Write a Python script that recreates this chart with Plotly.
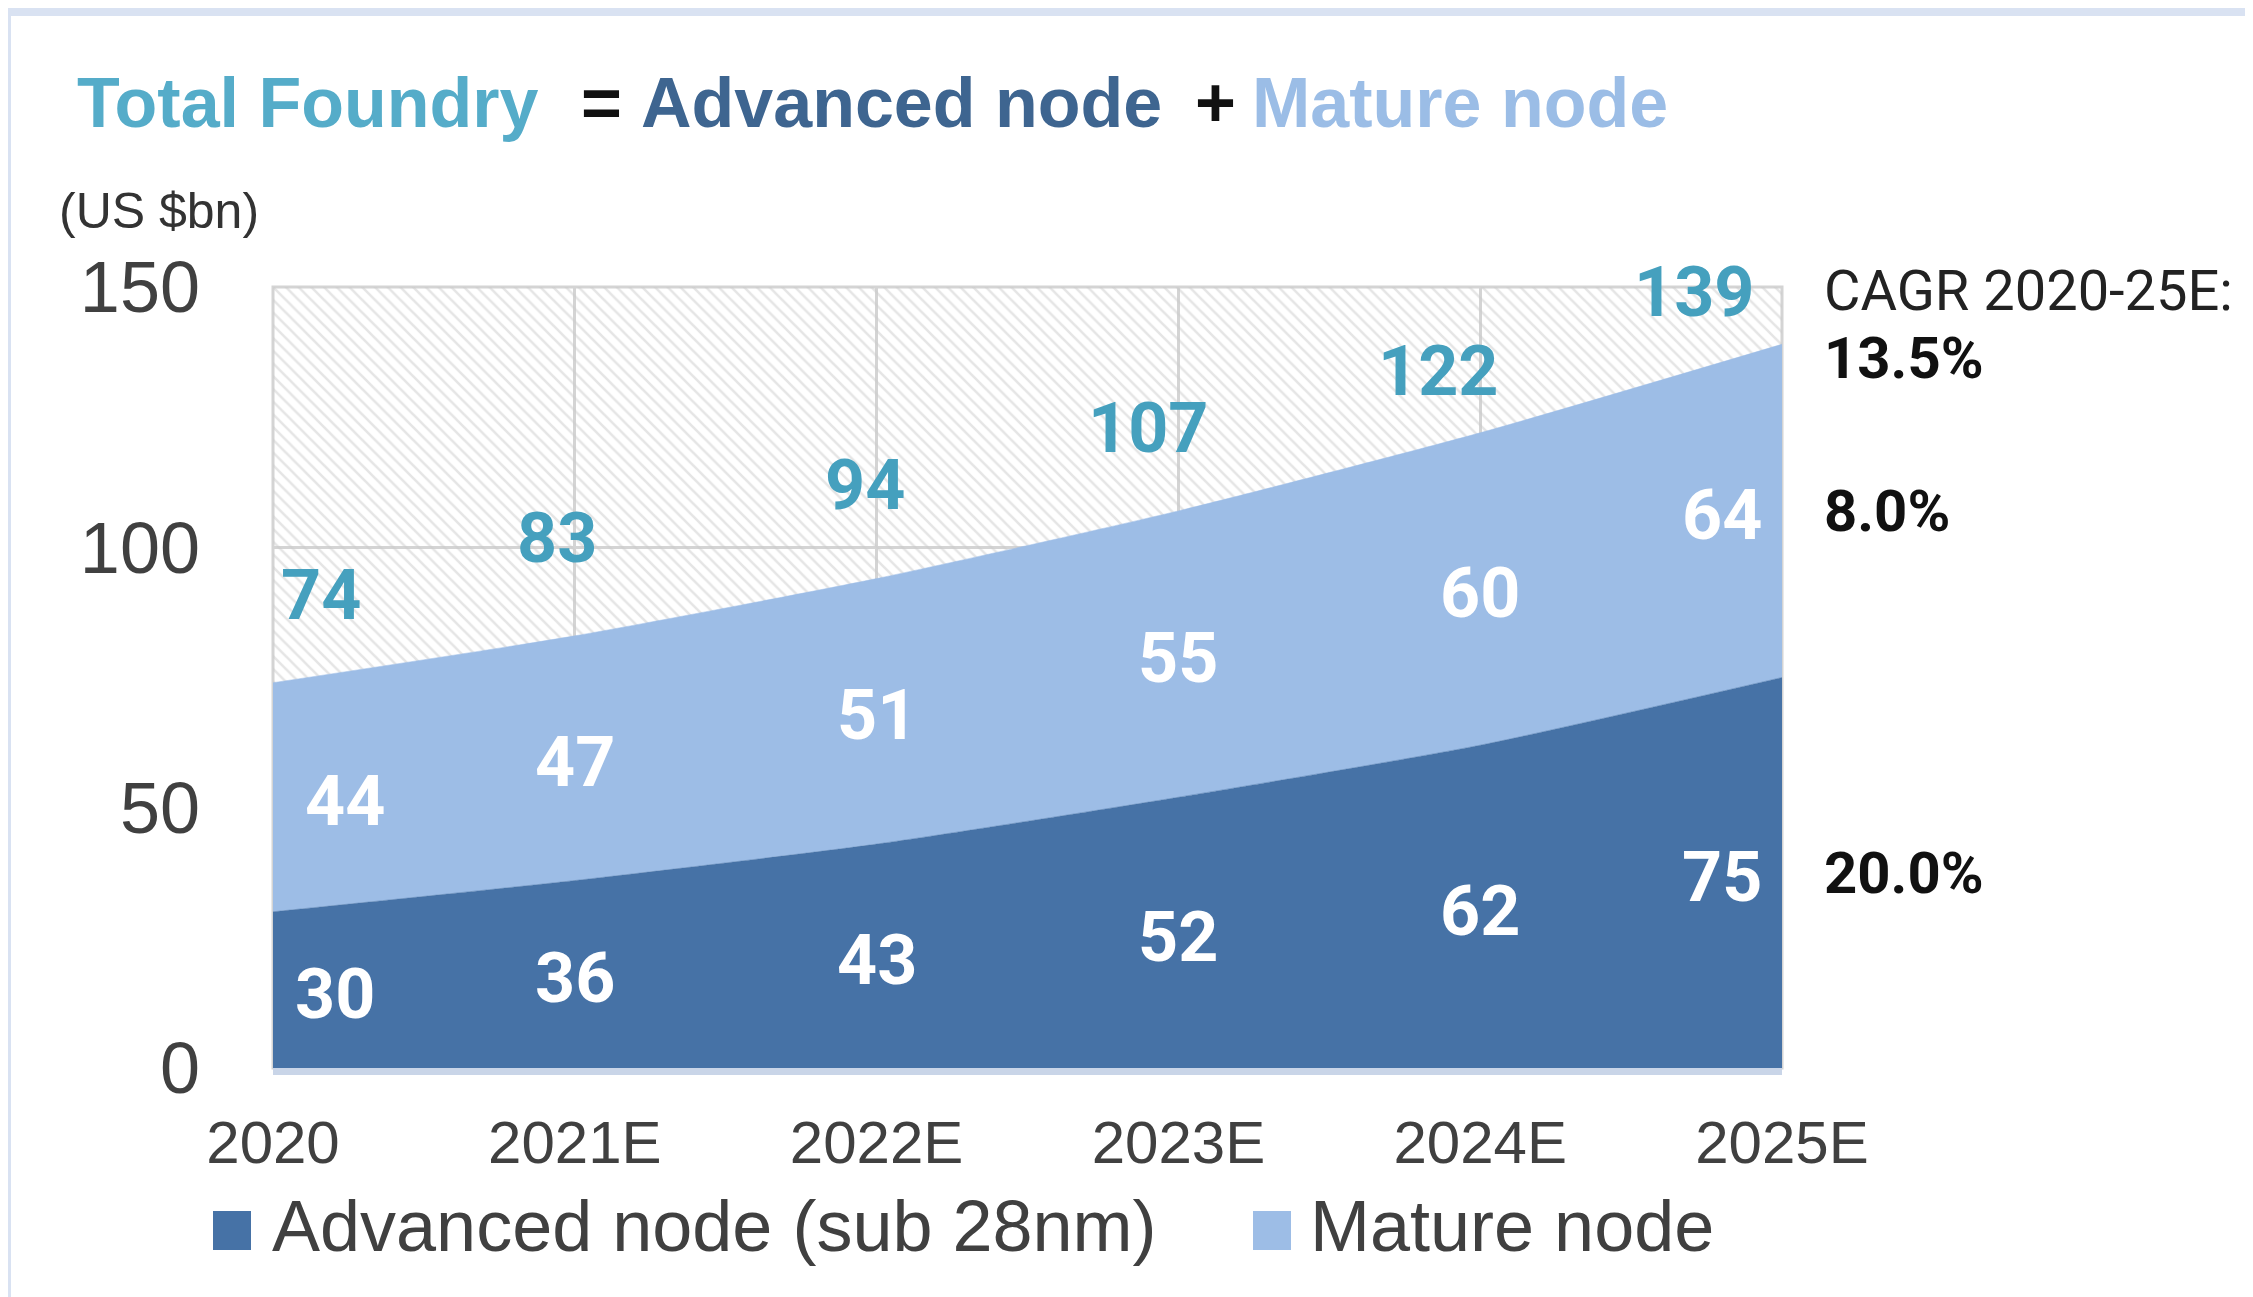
import plotly.graph_objects as go

# ---------------- data ----------------
categories = ["2020", "2021E", "2022E", "2023E", "2024E", "2025E"]
advanced = [30, 36, 43, 52, 62, 75]
mature = [44, 47, 51, 55, 60, 64]
total = [74, 83, 94, 107, 122, 139]
cagr_labels = ["13.5%", "8.0%", "20.0%"]   # total, mature, advanced
y_ticks = [0, 50, 100, 150]

# ---------------- style ----------------
SW, SH = 2253, 1297          # screen size
OFF = 8                      # default page body margin
W, H = SW - OFF, SH - OFF    # figure size
L, T = 273 - OFF, 287 - OFF  # plot area (figure coords)
R, B = SW - 1782, SH - 1068
PW, PH = W - L - R, H - T - B
DARK = "#4672a6"
LIGHT = "#9dbde6"
TEAL = "#45a0be"
GRID = "#d4d4d4"
TXT = "#404040"
SANS = "Liberation Sans, Arial, sans-serif"
ROBO = "Roboto, Arial, sans-serif"


def px2x(px):  # screen px -> paper x
    return (px - OFF - L) / PW


def py2y(py):  # screen py -> paper y
    return (H - B - (py - OFF)) / PH


xs = list(range(len(categories)))
ymax = y_ticks[-1]

fig = go.Figure()

# hatched background up to the top of the axis
fig.add_trace(go.Scatter(
    x=xs, y=[ymax] * len(xs), mode="lines", fill="tozeroy",
    line=dict(width=0, color="rgba(0,0,0,0)"),
    fillcolor="rgba(0,0,0,0)",
    fillpattern=dict(shape="\\", fgcolor="#cbcbcb", bgcolor="rgba(255,255,255,0)",
                     size=9, solidity=0.28),
    hoverinfo="skip", showlegend=False))

fig.add_trace(go.Scatter(
    x=xs, y=advanced, mode="lines", stackgroup="one", name="Advanced node (sub 28nm)",
    line=dict(width=0.5, color=DARK, shape="spline", smoothing=0.6),
    fillcolor=DARK, showlegend=False))
fig.add_trace(go.Scatter(
    x=xs, y=mature, mode="lines", stackgroup="one", name="Mature node",
    line=dict(width=0.5, color=LIGHT, shape="spline", smoothing=0.6),
    fillcolor=LIGHT, showlegend=False))

ann = []
n = len(categories)
edge_shift = [62, 0, 0, 0, 0, -60]
mature_shift = [72, 0, 0, 0, 0, -60]
total_xshift = [48, -18, -12, -30, -42, -88]
total_lift = [88, 98, 94, 83, 62, 52]
for i in range(n):
    ann.append(dict(x=i, y=advanced[i] / 2, xref="x", yref="y", text=str(advanced[i]),
                    showarrow=False, xshift=edge_shift[i], yshift=-4,
                    font=dict(family=ROBO, size=70, color="white", weight="bold")))
    ann.append(dict(x=i, y=advanced[i] + mature[i] / 2, xref="x", yref="y", text=str(mature[i]),
                    showarrow=False, xshift=mature_shift[i], yshift=-4,
                    font=dict(family=ROBO, size=70, color="white", weight="bold")))
    ann.append(dict(x=i, y=total[i], xref="x", yref="y", text=str(total[i]),
                    showarrow=False, xshift=total_xshift[i], yshift=total_lift[i],
                    font=dict(family=ROBO, size=70, color=TEAL, weight="bold")))

# CAGR block
ann.append(dict(x=px2x(1822), y=ymax, xref="paper", yref="y", text="CAGR 2020-25E:",
                xanchor="left", yanchor="middle", showarrow=False, yshift=-4,
                font=dict(family=ROBO, size=56, color="#222222")))
ann.append(dict(x=px2x(1822), y=total[-1], xref="paper", yref="y", text=cagr_labels[0],
                xanchor="left", yanchor="middle", showarrow=False, yshift=-14,
                font=dict(family=ROBO, size=58, color="#111111", weight="bold")))
ann.append(dict(x=px2x(1822), y=advanced[-1] + mature[-1] / 2, xref="paper", yref="y",
                text=cagr_labels[1], xanchor="left", yanchor="middle", showarrow=False,
                font=dict(family=ROBO, size=58, color="#111111", weight="bold")))
ann.append(dict(x=px2x(1822), y=advanced[-1] / 2, xref="paper", yref="y",
                text=cagr_labels[2], xanchor="left", yanchor="middle", showarrow=False,
                font=dict(family=ROBO, size=58, color="#111111", weight="bold")))

# headline
for text, left, col in [("Total Foundry", 75, "#55acc9"), ("=", 579, "#111111"),
                        ("Advanced node", 639, "#3e6590"), ("+", 1193, "#111111"),
                        ("Mature node", 1250, "#9bbde6")]:
    ann.append(dict(x=px2x(left), y=py2y(103), xref="paper", yref="paper", text=text,
                    xanchor="left", yanchor="middle", showarrow=False,
                    font=dict(family=SANS, size=70, color=col, weight="bold")))

ann.append(dict(x=px2x(159), y=py2y(211), xref="paper", yref="paper", text="(US $bn)",
                xanchor="center", yanchor="middle", showarrow=False,
                font=dict(family=SANS, size=50, color="#333333")))

# white card + plot frame
shapes = [dict(type="rect", xref="paper", yref="paper", layer="below",
               x0=px2x(11), x1=px2x(SW + 60), y0=py2y(16), y1=py2y(SH + 60),
               fillcolor="white", line=dict(width=0)),
          dict(type="rect", xref="paper", yref="paper", layer="below",
               x0=0, x1=1, y0=0, y1=1, fillcolor="rgba(0,0,0,0)",
               line=dict(width=3, color=GRID))]

# custom legend
for name, col, sq_left, txt_left in [("Advanced node (sub 28nm)", DARK, 213, 270),
                                     ("Mature node", LIGHT, 1253, 1308)]:
    shapes.append(dict(type="rect", xref="paper", yref="paper",
                       x0=px2x(sq_left), x1=px2x(sq_left + 38), y0=py2y(1250), y1=py2y(1211),
                       fillcolor=col, line=dict(width=0)))
    ann.append(dict(x=px2x(txt_left), y=py2y(1226), xref="paper", yref="paper", text=name,
                    xanchor="left", yanchor="middle", showarrow=False,
                    font=dict(family=SANS, size=72, color=TXT)))

fig.update_layout(
    width=W, height=H,
    margin=dict(l=L, r=R, t=T, b=B, autoexpand=False),
    paper_bgcolor="#d9e2f2", plot_bgcolor="rgba(0,0,0,0)",
    showlegend=False, annotations=ann, shapes=shapes,
    xaxis=dict(range=[0, n - 1], tickmode="array", tickvals=xs, ticktext=categories,
               showgrid=True, gridcolor=GRID, gridwidth=3, zeroline=False,
               showline=True, linecolor="#c9d5e8", linewidth=7,
               ticks="", ticklabelstandoff=16,
               tickfont=dict(family=SANS, size=60, color=TXT)),
    yaxis=dict(range=[0, ymax], tickmode="array", tickvals=y_ticks,
               showgrid=True, gridcolor=GRID, gridwidth=3, zeroline=False,
               showline=False, ticks="", ticklabelstandoff=72,
               tickfont=dict(family=SANS, size=72, color=TXT)),
)

fig.write_html("out.html")
